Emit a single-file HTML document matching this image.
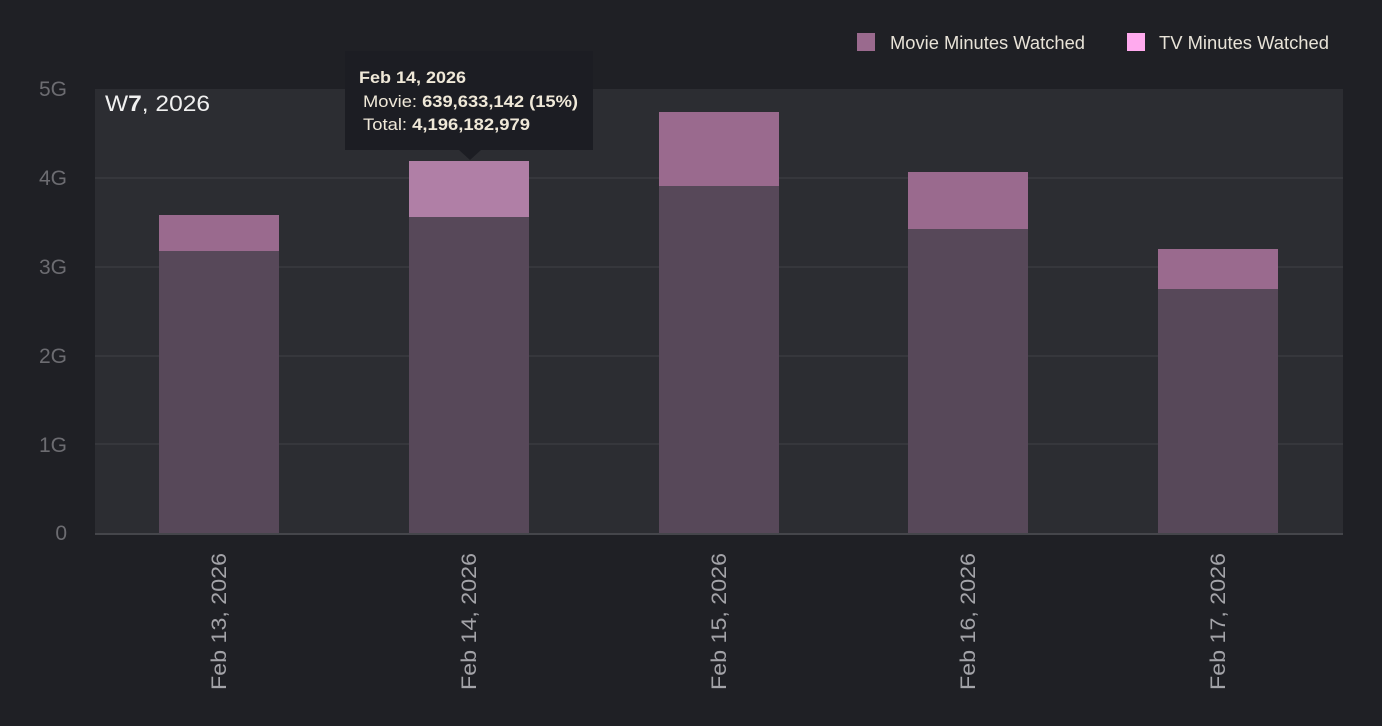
<!DOCTYPE html>
<html><head><meta charset="utf-8"><style>
html,body{margin:0;padding:0;background:#1f2025;}
svg{display:block;font-family:"Liberation Sans",sans-serif;}
</style></head><body>
<svg width="1382" height="726" viewBox="0 0 1382 726" xmlns="http://www.w3.org/2000/svg">
<rect width="1382" height="726" fill="#1f2025"/>
<rect x="95" y="89" width="1248" height="444" fill="#2c2d32"/>
<g stroke="#36373c" stroke-width="2">
<line x1="95" y1="178" x2="1343" y2="178"/>
<line x1="95" y1="267" x2="1343" y2="267"/>
<line x1="95" y1="356" x2="1343" y2="356"/>
<line x1="95" y1="444" x2="1343" y2="444"/>
</g>
<g fill="#6c6c71" font-size="21" text-anchor="end">
<text x="67" y="96">5G</text><text x="67" y="185">4G</text><text x="67" y="274">3G</text>
<text x="67" y="363">2G</text><text x="67" y="452">1G</text><text x="67" y="540">0</text>
</g>
<text x="105" y="111" fill="#f0f0f0" font-size="22" textLength="105" lengthAdjust="spacingAndGlyphs">W<tspan font-weight="bold">7</tspan>, 2026</text>
<g>
<rect x="159" y="251" width="120" height="282" fill="#574859"/><rect x="159" y="215" width="120" height="36" fill="#9a6a8e"/>
<rect x="409" y="217" width="120" height="316" fill="#574859"/><rect x="409" y="161" width="120" height="56" fill="#b07fa6"/>
<rect x="659" y="186" width="120" height="347" fill="#574859"/><rect x="659" y="112" width="120" height="74" fill="#9a6a8e"/>
<rect x="908" y="229" width="120" height="304" fill="#574859"/><rect x="908" y="172" width="120" height="57" fill="#9a6a8e"/>
<rect x="1158" y="289" width="120" height="244" fill="#574859"/><rect x="1158" y="249" width="120" height="40" fill="#9a6a8e"/>
</g>
<line x1="95" y1="534" x2="1343" y2="534" stroke="#45464b" stroke-width="2"/>
<g fill="#a3a3a8" font-size="21" text-anchor="end">
<text transform="translate(226,553) rotate(-90)" textLength="137" lengthAdjust="spacingAndGlyphs">Feb 13, 2026</text>
<text transform="translate(476,553) rotate(-90)" textLength="137" lengthAdjust="spacingAndGlyphs">Feb 14, 2026</text>
<text transform="translate(726,553) rotate(-90)" textLength="137" lengthAdjust="spacingAndGlyphs">Feb 15, 2026</text>
<text transform="translate(975,553) rotate(-90)" textLength="137" lengthAdjust="spacingAndGlyphs">Feb 16, 2026</text>
<text transform="translate(1225,553) rotate(-90)" textLength="137" lengthAdjust="spacingAndGlyphs">Feb 17, 2026</text>
</g>
<rect x="857" y="33" width="18" height="18" fill="#9a6a8e"/>
<text x="890" y="49" fill="#e8e3d8" font-size="18" textLength="195" lengthAdjust="spacingAndGlyphs">Movie Minutes Watched</text>
<rect x="1127" y="33" width="18" height="18" fill="#ffaaee"/>
<text x="1159" y="49" fill="#e8e3d8" font-size="18" textLength="170" lengthAdjust="spacingAndGlyphs">TV Minutes Watched</text>
<rect x="345" y="51" width="248" height="99" fill="#1c1d23"/>
<polygon points="459,150 481,150 470,160" fill="#1c1d23"/>
<g fill="#efe8d8" font-size="17">
<text x="359" y="83" font-weight="bold" textLength="107" lengthAdjust="spacingAndGlyphs">Feb 14, 2026</text>
<text x="363" y="107" textLength="215" lengthAdjust="spacingAndGlyphs">Movie: <tspan font-weight="bold">639,633,142 (15%)</tspan></text>
<text x="363" y="130" textLength="167" lengthAdjust="spacingAndGlyphs">Total: <tspan font-weight="bold">4,196,182,979</tspan></text>
</g>
</svg>
</body></html>
